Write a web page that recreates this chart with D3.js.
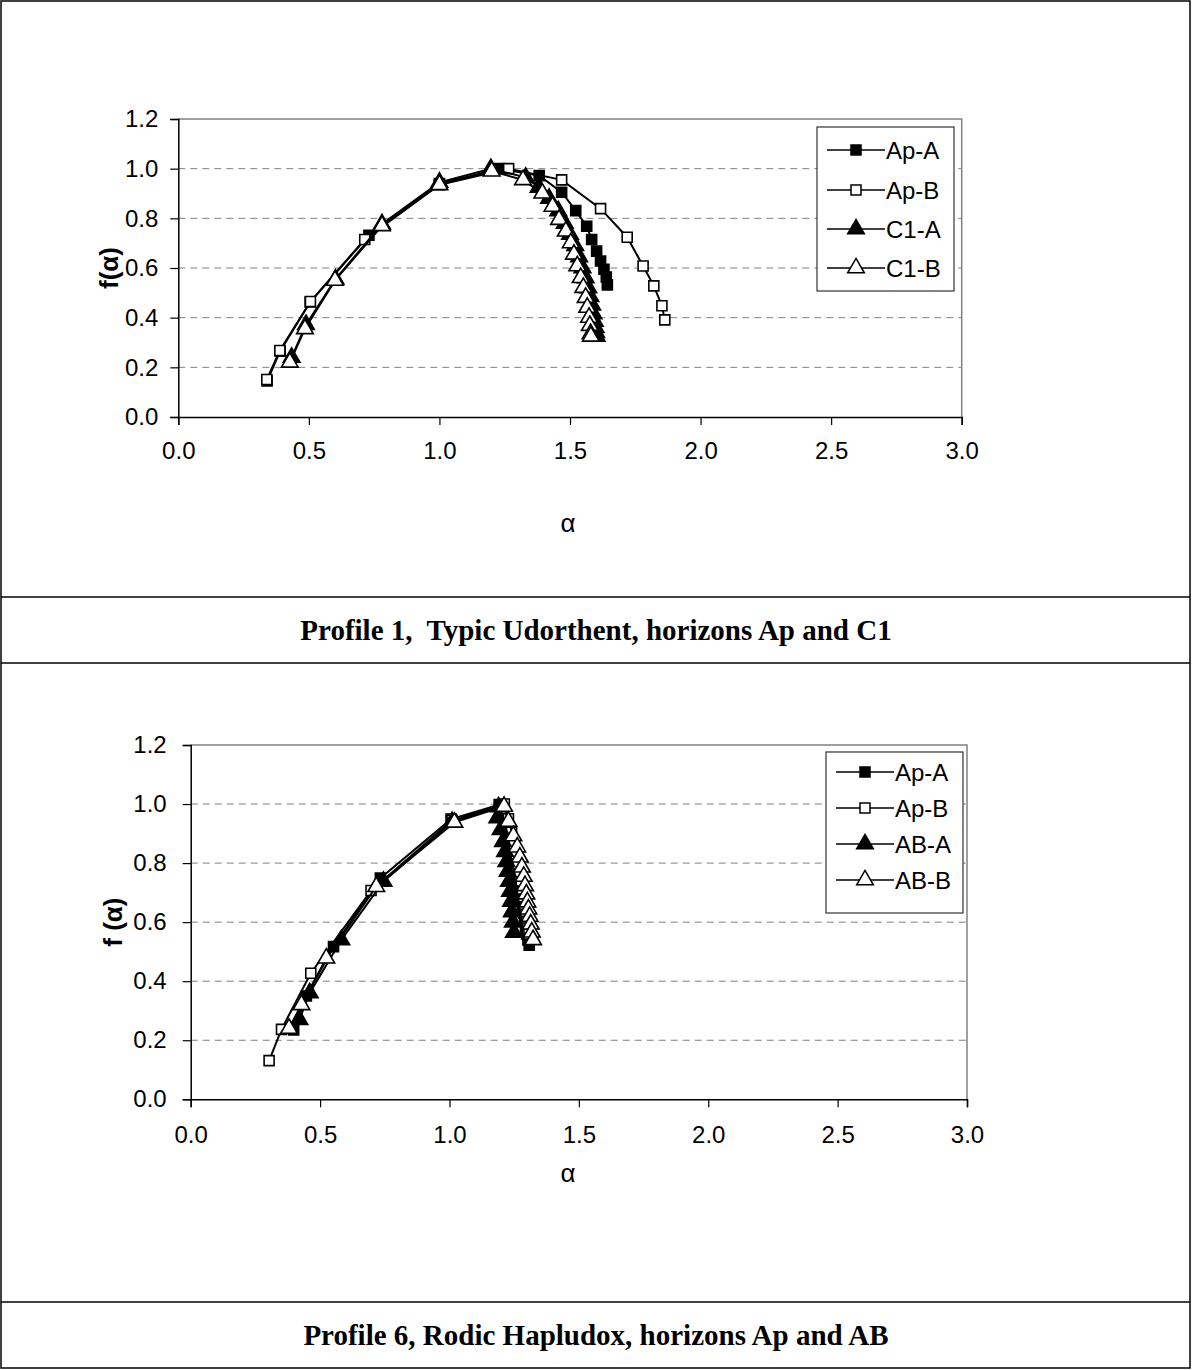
<!DOCTYPE html>
<html><head><meta charset="utf-8">
<script src="https://cdn.jsdelivr.net/npm/d3@7"></script>
<style>
html,body{margin:0;padding:0;background:#fff;}
svg{display:block;}
</style></head>
<body>
<svg id="c" width="1192" height="1370"></svg>
<script>
// ---------- data ----------
const xTicks = [0.0, 0.5, 1.0, 1.5, 2.0, 2.5, 3.0];
const yTicks = [0.0, 0.2, 0.4, 0.6, 0.8, 1.0, 1.2];

// Profile 1
const p1Names = ["Ap-A", "Ap-B", "C1-A", "C1-B"];
const p1ApA = [[0.34,0.145],[0.39,0.265],[0.505,0.463],[0.73,0.732],[1.0,0.94],[1.23,1.0],[1.382,0.972],[1.468,0.905],[1.522,0.831],[1.564,0.768],[1.583,0.715],[1.602,0.668],[1.617,0.628],[1.63,0.595],[1.639,0.564],[1.643,0.532]];
const p1ApB = [[0.339,0.151],[0.389,0.268],[0.506,0.465],[0.714,0.715],[1.0,0.935],[1.265,1.0],[1.468,0.955],[1.617,0.839],[1.719,0.724],[1.78,0.608],[1.821,0.528],[1.852,0.448],[1.863,0.391]];
const p1C1A = [[0.434,0.24],[0.489,0.372],[0.602,0.555],[0.78,0.777],[1.0,0.945],[1.197,1.0],[1.33,0.965],[1.38,0.925],[1.42,0.88],[1.455,0.83],[1.48,0.78],[1.5,0.735],[1.52,0.69],[1.535,0.645],[1.548,0.6],[1.56,0.56],[1.57,0.52],[1.578,0.485],[1.585,0.45],[1.59,0.415],[1.595,0.385],[1.598,0.36],[1.6,0.34],[1.602,0.325]];
const p1C1B = [[0.427,0.22],[0.485,0.355],[0.6,0.55],[0.78,0.77],[1.0,0.935],[1.2,0.99],[1.32,0.955],[1.394,0.901],[1.433,0.848],[1.458,0.795],[1.484,0.748],[1.503,0.701],[1.515,0.655],[1.528,0.608],[1.541,0.561],[1.551,0.521],[1.56,0.481],[1.566,0.441],[1.573,0.401],[1.576,0.368],[1.579,0.335],[1.58,0.325]];

// Profile 6
const p6Names = ["Ap-A", "Ap-B", "AB-A", "AB-B"];
const p6ApA = [[0.398,0.235],[0.447,0.35],[0.552,0.517],[0.733,0.749],[1.006,0.949],[1.192,0.998],[1.21,0.95],[1.225,0.9],[1.238,0.86],[1.248,0.82],[1.256,0.785],[1.263,0.75],[1.27,0.72],[1.276,0.69],[1.281,0.66],[1.286,0.63],[1.29,0.605],[1.294,0.58],[1.298,0.56],[1.303,0.54],[1.308,0.522]];
const p6ApB = [[0.303,0.131],[0.351,0.237],[0.464,0.427],[0.697,0.707],[1.01,0.945],[1.212,1.0],[1.228,0.95],[1.24,0.905],[1.25,0.865],[1.258,0.83],[1.265,0.795],[1.271,0.765],[1.277,0.735],[1.282,0.705],[1.287,0.678],[1.291,0.652],[1.295,0.627],[1.299,0.603],[1.303,0.58],[1.307,0.56]];
const p6ABA = [[0.42,0.27],[0.46,0.36],[0.582,0.54],[0.745,0.738],[1.01,0.94],[1.19,0.99],[1.185,0.953],[1.198,0.913],[1.207,0.873],[1.215,0.839],[1.22,0.805],[1.225,0.772],[1.23,0.738],[1.234,0.704],[1.238,0.67],[1.241,0.635],[1.245,0.6],[1.249,0.565]];
const p6ABB = [[0.38,0.24],[0.428,0.32],[0.524,0.478],[0.717,0.72],[1.019,0.938],[1.211,0.992],[1.228,0.941],[1.247,0.892],[1.262,0.854],[1.272,0.82],[1.28,0.786],[1.287,0.755],[1.292,0.723],[1.297,0.695],[1.301,0.668],[1.305,0.644],[1.31,0.619],[1.314,0.593],[1.318,0.566],[1.323,0.54]];

const captions = ["Profile 1,  Typic Udorthent, horizons Ap and C1", "Profile 6, Rodic Hapludox, horizons Ap and AB"];
const yTitles = ["f(α)", "f (α)"];
const xTitle = "α";

// marker styles per series index: filled square, open square, filled triangle, open triangle
const markerTypes = [d3.symbolSquare, d3.symbolSquare, d3.symbolTriangle, d3.symbolTriangle];
const markerFills = ["#000", "#fff", "#000", "#fff"];
const markerSizes = [100, 100, 120, 120];
const SANS = "'Liberation Sans', Arial, sans-serif";

const svg = d3.select("#c");

// table frame
const frame = svg.append("g").attr("stroke", "#000").attr("stroke-width", 1.5).attr("fill", "none");
frame.append("rect").attr("x", 1).attr("y", 1).attr("width", 1189).attr("height", 1367);
[597, 663, 1302].forEach(y => frame.append("line").attr("x1", 1).attr("x2", 1190).attr("y1", y).attr("y2", y));

function drawChart(cfg) {
  const x = d3.scaleLinear().domain([0, 3]).range([cfg.x0, cfg.x1]);
  const y = d3.scaleLinear().domain([0, 1.2]).range([cfg.y0, cfg.y1]);
  const g = svg.append("g");

  // gridlines
  g.append("g").selectAll("line").data(yTicks.filter(v => v > 0 && v < 1.2)).join("line")
    .attr("x1", x(0)).attr("x2", x(3)).attr("y1", d => y(d)).attr("y2", d => y(d))
    .attr("stroke", "#808080").attr("stroke-width", 1).attr("stroke-dasharray", "7,5");
  // plot border top/right
  g.append("path").attr("d", `M${x(0)},${y(1.2)}H${x(3)}V${y(0)}`)
    .attr("fill", "none").attr("stroke", "#808080").attr("stroke-width", 1.5);

  // axes
  const xAxis = d3.axisBottom(x).tickValues(xTicks).tickFormat(d3.format(".1f")).tickSize(8).tickPadding(cfg.xPad);
  const yAxis = d3.axisLeft(y).tickValues(yTicks).tickFormat(d3.format(".1f")).tickSize(8).tickPadding(cfg.yPad);
  const gx = g.append("g").attr("transform", `translate(0,${y(0)})`).call(xAxis);
  const gy = g.append("g").attr("transform", `translate(${x(0)},0)`).call(yAxis);
  [gx, gy].forEach(a => {
    a.select(".domain").attr("stroke", "#000").attr("stroke-width", 1.5);
    a.selectAll(".tick line").attr("stroke", "#000").attr("stroke-width", 1.2);
    a.selectAll("text").attr("font-family", SANS).attr("font-size", 24).attr("fill", "#000");
  });

  // series
  const line = d3.line().x(d => x(d[0])).y(d => y(d[1]));
  cfg.series.forEach((s, i) => {
    g.append("path").datum(s).attr("d", line).attr("fill", "none").attr("stroke", "#000").attr("stroke-width", 2);
    g.append("g").selectAll("path").data(s).join("path")
      .attr("transform", d => `translate(${x(d[0])},${y(d[1])})`)
      .attr("d", d3.symbol(markerTypes[i], markerSizes[i]))
      .attr("fill", markerFills[i]).attr("stroke", "#000").attr("stroke-width", 1.6);
  });

  // axis titles
  g.append("text").attr("transform", `translate(${cfg.yTitleX},${(y(0) + y(1.2)) / 2}) rotate(-90)`)
    .attr("text-anchor", "middle").attr("dominant-baseline", "middle")
    .attr("font-family", SANS).attr("font-weight", "bold").attr("font-size", 26)
    .text(cfg.yTitle);
  g.append("text").attr("x", cfg.xTitleX).attr("y", cfg.xTitleY)
    .attr("text-anchor", "middle").attr("dominant-baseline", "middle")
    .attr("font-family", SANS).attr("font-size", 26)
    .text(xTitle);

  // legend
  const L = cfg.legend;
  const lg = g.append("g");
  lg.append("rect").attr("x", L.x).attr("y", L.y).attr("width", L.w).attr("height", L.h)
    .attr("fill", "#fff").attr("stroke", "#333").attr("stroke-width", 1.2);
  cfg.names.forEach((n, i) => {
    const cy = L.rows[i];
    lg.append("line").attr("x1", L.x + 10).attr("x2", L.x + 68).attr("y1", cy).attr("y2", cy)
      .attr("stroke", "#000").attr("stroke-width", 1.6);
    lg.append("path").attr("transform", `translate(${L.x + 39},${cy})`)
      .attr("d", d3.symbol(markerTypes[i], markerSizes[i]))
      .attr("fill", markerFills[i]).attr("stroke", "#000").attr("stroke-width", 1.5);
    lg.append("text").attr("x", L.x + 69).attr("y", cy).attr("dominant-baseline", "central")
      .attr("font-family", SANS).attr("font-size", 24).text(n);
  });

  // caption
  svg.append("text").attr("x", 596).attr("y", cfg.capY)
    .attr("text-anchor", "middle").attr("dominant-baseline", "central")
    .style("white-space", "pre")
    .attr("font-family", "'Liberation Serif', 'Times New Roman', serif").attr("font-weight", "bold").attr("font-size", 29)
    .text(cfg.caption);
}

drawChart({
  x0: 178.3, x1: 961.7, y0: 417, y1: 119, xPad: 17, yPad: 12,
  series: [p1ApA, p1ApB, p1C1A, p1C1B], names: p1Names,
  yTitle: yTitles[0], yTitleX: 111, xTitleX: 568, xTitleY: 525,
  legend: { x: 817, y: 127, w: 137, h: 164, rows: [150, 190, 229, 268] },
  caption: captions[0], capY: 630
});
drawChart({
  x0: 190.7, x1: 967, y0: 1099.3, y1: 745, xPad: 19, yPad: 16,
  series: [p6ApA, p6ApB, p6ABA, p6ABB], names: p6Names,
  yTitle: yTitles[1], yTitleX: 115, xTitleX: 568, xTitleY: 1175,
  legend: { x: 826, y: 752, w: 137, h: 161, rows: [772, 808, 844, 880] },
  caption: captions[1], capY: 1335
});
</script>
</body></html>
